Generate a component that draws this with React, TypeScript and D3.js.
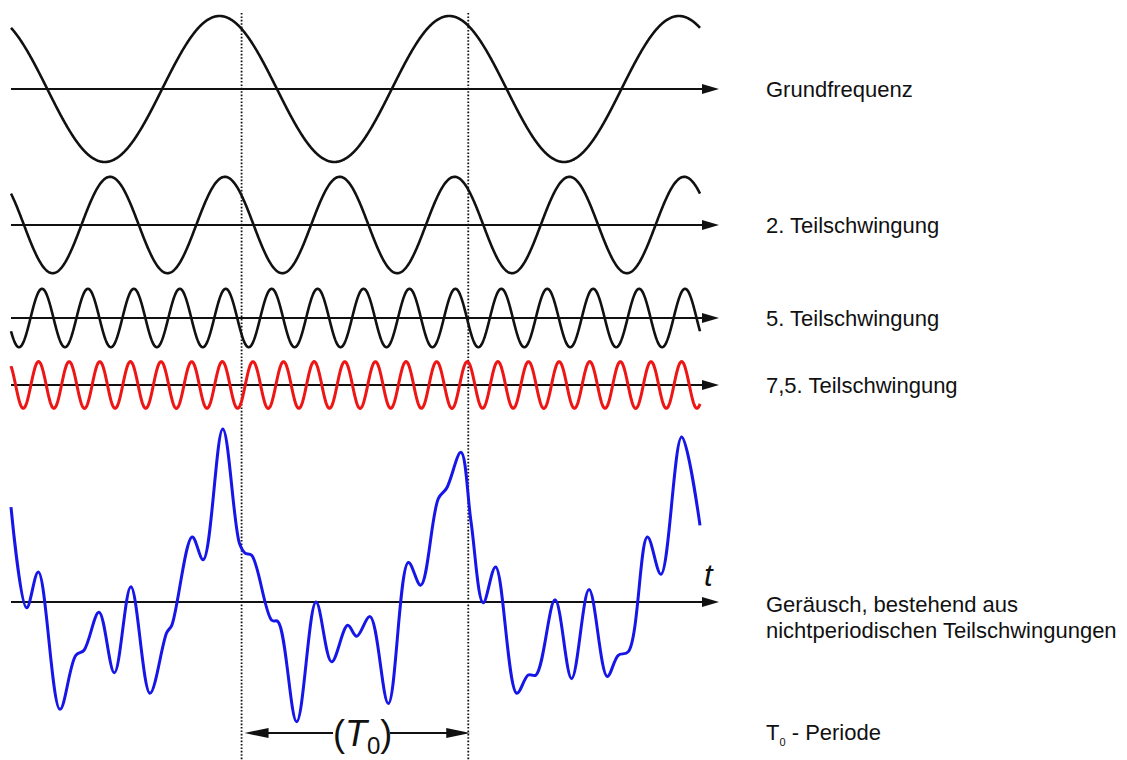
import React from "react";
import * as d3 from "d3";

// ---- data ----
// time axis in units of the fundamental period (0..3)
const timeDomain = [0, 3];
const periodMarks = [1.004, 1.991];

const harmonicLabels = ["Grundfrequenz", "2. Teilschwingung", "5. Teilschwingung", "7,5. Teilschwingung"];
const harmonicOrders = [1, 2, 5, 7.5];
const harmonicAmplitudes = [1, 0.66, 0.4, 0.32];
const harmonicPeakTimes = [0.908, 0.9315, 0.935, 0.92];

// noise (non-periodic sum)
const noiseTimes = [
  0, 0.068, 0.119, 0.213, 0.282, 0.318, 0.383, 0.45, 0.522, 0.605, 0.678, 0.7,
  0.789, 0.837, 0.922, 0.995, 1.019, 1.048, 1.135, 1.163, 1.244, 1.328, 1.396, 1.466,
  1.505, 1.563, 1.643, 1.73, 1.784, 1.861, 1.897, 1.959, 2.003, 2.056, 2.11, 2.202,
  2.252, 2.286, 2.369, 2.441, 2.517, 2.596, 2.644, 2.688, 2.771, 2.83, 2.92, 3.0,
];
const noiseValues = [
  1.3, -0.08, 0.41, -1.47, -0.73, -0.66, -0.14, -0.97, 0.21, -1.25, -0.42, -0.32,
  0.89, 0.58, 2.37, 0.8, 0.67, 0.64, -0.25, -0.27, -1.64, 0.0, -0.82, -0.32,
  -0.47, -0.2, -1.39, 0.54, 0.23, 1.42, 1.56, 2.05, 1.1, -0.01, 0.48, -1.25,
  -1.0, -1.0, 0.03, -1.05, 0.17, -1.02, -0.73, -0.68, 0.89, 0.38, 2.26, 1.05,
];
const noiseLabelLines = ["Geräusch, bestehend aus", "nichtperiodischen Teilschwingungen"];

// ---- layout / style ----
const W = 1127;
const H = 760;
const rowAxisY = [89, 225, 318, 385, 602];
const harmonicColors = ["#111", "#111", "#111", "#ee1515"];
const harmonicWidths = [2.6, 2.6, 2.6, 3];
const noiseColor = "#1616e8";
const font = "'Liberation Sans', Arial, sans-serif";

export default function App() {
  const x = d3.scaleLinear().domain(timeDomain).range([11, 700]);
  const amp = d3.scaleLinear().domain([0, 1]).range([0, 73]);
  const axisStart = 11;
  const arrowTip = 719;
  const arrowLen = 17;
  const arrowHalf = 5;

  const samples = d3.range(0, 3.0001, 0.002);

  const harmonicPaths = harmonicOrders.map((f, i) => {
    const cy = rowAxisY[i];
    const line = d3
      .line<number>()
      .x((t) => x(t))
      .y((t) => cy - amp(harmonicAmplitudes[i] * Math.cos(2 * Math.PI * f * (t - harmonicPeakTimes[i]))));
    return line(samples) as string;
  });

  const noiseLine = d3
    .line<number>()
    .x((_, i) => x(noiseTimes[i]))
    .y((v) => rowAxisY[4] - amp(v))
    .curve(d3.curveCatmullRom.alpha(0.5));
  const noisePath = noiseLine(noiseValues) as string;

  const arrowAt = (y: number) =>
    `M${arrowTip},${y} L${arrowTip - arrowLen},${y - arrowHalf} L${arrowTip - arrowLen},${y + arrowHalf} Z`;

  const t0y = 733;
  const leftTip = x(periodMarks[0]) + 3;
  const rightTip = x(periodMarks[1]) + 2;

  const labelX = 766;
  const labelFs = 22;

  return (
    <svg
      width={W}
      height={H}
      style={{ position: "absolute", left: 0, top: 0, background: "#fff" }}
      fontFamily={font}
    >
      <rect width={W} height={H} fill="#fff" />
      {/* dotted period markers */}
      {periodMarks.map((m, i) => (
        <line
          key={"d" + i}
          x1={x(m)}
          x2={x(m)}
          y1={13}
          y2={H}
          stroke="#111"
          strokeWidth={1.8}
          strokeDasharray="1.6 1.8"
        />
      ))}

      {/* axes */}
      {rowAxisY.map((y, i) => (
        <g key={"a" + i}>
          <line x1={axisStart} x2={arrowTip - arrowLen + 1} y1={y} y2={y} stroke="#111" strokeWidth={2} />
          <path d={arrowAt(y)} fill="#111" />
        </g>
      ))}

      {/* harmonics */}
      {harmonicPaths.map((d, i) => (
        <path key={"h" + i} d={d} fill="none" stroke={harmonicColors[i]} strokeWidth={harmonicWidths[i]} />
      ))}

      {/* noise */}
      <path d={noisePath} fill="none" stroke={noiseColor} strokeWidth={3} strokeLinejoin="round" />

      {/* t label */}
      <text x={704} y={586} fontSize={31} fontStyle="italic" fill="#111">
        t
      </text>

      {/* labels */}
      {harmonicLabels.map((l, i) => (
        <text key={"l" + i} x={labelX} y={rowAxisY[i] + 8} fontSize={labelFs} fill="#111">
          {l}
        </text>
      ))}
      {noiseLabelLines.map((l, i) => (
        <text key={"n" + i} x={labelX} y={611.5 + i * 26.5} fontSize={labelFs} fill="#111">
          {l}
        </text>
      ))}
      <text x={labelX} y={740} fontSize={labelFs} fill="#111">
        T<tspan fontSize={11} dy={6}>0</tspan>
        <tspan dy={-6}> - Periode</tspan>
      </text>

      {/* T0 period arrow */}
      <line x1={leftTip + 20} x2={333} y1={t0y} y2={t0y} stroke="#111" strokeWidth={2} />
      <path d={`M${leftTip},${t0y} L${leftTip + 24},${t0y - 5} L${leftTip + 24},${t0y + 5} Z`} fill="#111" />
      <line x1={390} x2={rightTip - 20} y1={t0y} y2={t0y} stroke="#111" strokeWidth={2} />
      <path d={`M${rightTip},${t0y} L${rightTip - 24},${t0y - 5} L${rightTip - 24},${t0y + 5} Z`} fill="#111" />
      <text x={333} y={746} fontSize={36} fill="#111">
        (<tspan fontStyle="italic">T</tspan>
        <tspan fontSize={24} dy={8}>0</tspan>
        <tspan dy={-8}>)</tspan>
      </text>
    </svg>
  );
}
